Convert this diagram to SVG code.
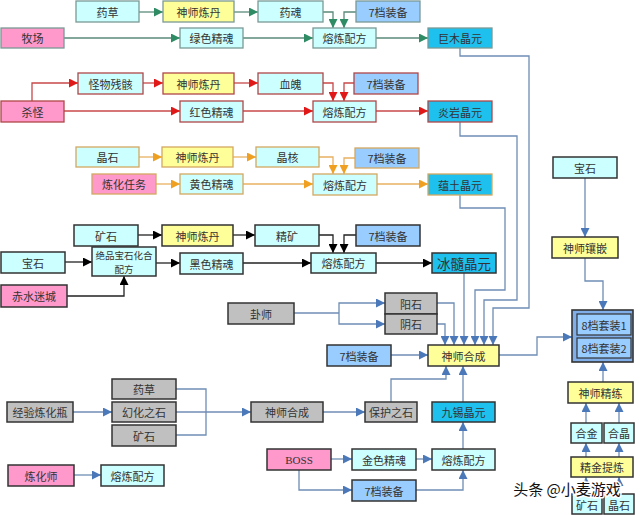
<svg xmlns="http://www.w3.org/2000/svg" width="640" height="515" viewBox="0 0 640 515">
<style>
text{font-family:"Noto Sans CJK SC","Liberation Serif",serif;font-size:11px;fill:#333;text-anchor:middle;dominant-baseline:central}
.lc{fill:#CCFFFF}.ye{fill:#FFFF99}.pk{fill:#FF99CC}.bl{fill:#99CCFF}.cy{fill:#1EC0EE}.gr{fill:#C0C0C0}
.bg{stroke:#7A9A94;stroke-width:1.3}.br{stroke:#B04848;stroke-width:1.3}.bo{stroke:#D4A860;stroke-width:1.3}.bk{stroke:#333;stroke-width:1.5}
.cg{fill:none;stroke:#5A8A7A;stroke-width:1.3}
.cr{fill:none;stroke:#C84848;stroke-width:1.3}
.co{fill:none;stroke:#E8B060;stroke-width:1.3}
.ck{fill:none;stroke:#222;stroke-width:1.3}
.cb{fill:none;stroke:#6F8DB5;stroke-width:1.3}
</style>
<defs>
<marker id="ag" viewBox="0 0 10 10" refX="10" refY="5" markerWidth="12" markerHeight="9" markerUnits="userSpaceOnUse" orient="auto"><path d="M0,0L10,5L0,10z" fill="#2E8B64"/></marker>
<marker id="ar" viewBox="0 0 10 10" refX="10" refY="5" markerWidth="12" markerHeight="9" markerUnits="userSpaceOnUse" orient="auto"><path d="M0,0L10,5L0,10z" fill="#E01818"/></marker>
<marker id="ao" viewBox="0 0 10 10" refX="10" refY="5" markerWidth="12" markerHeight="9" markerUnits="userSpaceOnUse" orient="auto"><path d="M0,0L10,5L0,10z" fill="#F0A020"/></marker>
<marker id="ak" viewBox="0 0 10 10" refX="10" refY="5" markerWidth="12" markerHeight="9" markerUnits="userSpaceOnUse" orient="auto"><path d="M0,0L10,5L0,10z" fill="#000"/></marker>
<marker id="ab" viewBox="0 0 10 10" refX="10" refY="5" markerWidth="12" markerHeight="9" markerUnits="userSpaceOnUse" orient="auto"><path d="M0,0L10,5L0,10z" fill="#4A78B8"/></marker>
</defs>

<g id="connectors">
<path class="cg" d="M139,12H163" marker-end="url(#ag)"/>
<path class="cg" d="M234,12H258" marker-end="url(#ag)"/>
<path class="cg" d="M323,12H333V28" marker-end="url(#ag)"/>
<path class="cg" d="M356,12H344V28" marker-end="url(#ag)"/>
<path class="cg" d="M64,38H180" marker-end="url(#ag)"/>
<path class="cg" d="M243,38H313" marker-end="url(#ag)"/>
<path class="cg" d="M376,38H428" marker-end="url(#ag)"/>
<path class="cr" d="M32,101V83H78" marker-end="url(#ar)"/>
<path class="cr" d="M143,83H163" marker-end="url(#ar)"/>
<path class="cr" d="M234,83H258" marker-end="url(#ar)"/>
<path class="cr" d="M323,83H333V101" marker-end="url(#ar)"/>
<path class="cr" d="M354,83H344V101" marker-end="url(#ar)"/>
<path class="cr" d="M64,111H180" marker-end="url(#ar)"/>
<path class="cr" d="M243,111H313" marker-end="url(#ar)"/>
<path class="cr" d="M376,111H428" marker-end="url(#ar)"/>
<path class="co" d="M139,157H162" marker-end="url(#ao)"/>
<path class="co" d="M233,157H256" marker-end="url(#ao)"/>
<path class="co" d="M319,157H333V174" marker-end="url(#ao)"/>
<path class="co" d="M355,158H344V174" marker-end="url(#ao)"/>
<path class="co" d="M156,184H180" marker-end="url(#ao)"/>
<path class="co" d="M243,184H313" marker-end="url(#ao)"/>
<path class="co" d="M377,184H428" marker-end="url(#ao)"/>
<path class="ck" d="M138,235H162" marker-end="url(#ak)"/>
<path class="ck" d="M233,235H255" marker-end="url(#ak)"/>
<path class="ck" d="M319,235H333V253" marker-end="url(#ak)"/>
<path class="ck" d="M356,235H344V253" marker-end="url(#ak)"/>
<path class="ck" d="M65,262H92" marker-end="url(#ak)"/>
<path class="ck" d="M67,296H124V276" marker-end="url(#ak)"/>
<path class="ck" d="M156,263H180" marker-end="url(#ak)"/>
<path class="ck" d="M243,263H311" marker-end="url(#ak)"/>
<path class="ck" d="M376,263H432" marker-end="url(#ak)"/>
<path class="cb" d="M460,48V56H529V308H493V345" marker-end="url(#ab)"/>
<path class="cb" d="M460,122V136H517V300H484V345" marker-end="url(#ab)"/>
<path class="cb" d="M460,195V208H505V290H475V345" marker-end="url(#ab)"/>
<path class="cb" d="M464,273V345" marker-end="url(#ab)"/>
<path class="cb" d="M437,303H454V345" marker-end="url(#ab)"/>
<path class="cb" d="M437,324H445V345" marker-end="url(#ab)"/>
<path class="cb" d="M294,313H339"/>
<path class="cb" d="M339,313V303H385" marker-end="url(#ab)"/>
<path class="cb" d="M339,313V324H385" marker-end="url(#ab)"/>
<path class="cb" d="M391,355H428" marker-end="url(#ab)"/>
<path class="cb" d="M499,355H537V337H572" marker-end="url(#ab)"/>
<path class="cb" d="M391,402V379H446V366" marker-end="url(#ab)"/>
<path class="cb" d="M463,402V366" marker-end="url(#ab)"/>
<path class="cb" d="M463,449V422" marker-end="url(#ab)"/>
<path class="cb" d="M73,412H112" marker-end="url(#ab)"/>
<path class="cb" d="M176,389H206V435H176"/>
<path class="cb" d="M176,412H251" marker-end="url(#ab)"/>
<path class="cb" d="M323,412H365" marker-end="url(#ab)"/>
<path class="cb" d="M74,475H101" marker-end="url(#ab)"/>
<path class="cb" d="M331,459H352" marker-end="url(#ab)"/>
<path class="cb" d="M416,459H432" marker-end="url(#ab)"/>
<path class="cb" d="M299,470V490H352" marker-end="url(#ab)"/>
<path class="cb" d="M416,490H463V470" marker-end="url(#ab)"/>
<path class="cb" d="M585,178V237" marker-end="url(#ab)"/>
<path class="cb" d="M585,258V281H603V310" marker-end="url(#ab)"/>
<path class="cb" d="M603,382V362" marker-end="url(#ab)"/>
<path class="cb" d="M586,423V403" marker-end="url(#ab)"/>
<path class="cb" d="M619,423V403" marker-end="url(#ab)"/>
<path class="cb" d="M586,457V443" marker-end="url(#ab)"/>
<path class="cb" d="M619,457V443" marker-end="url(#ab)"/>
<path class="cb" d="M586,494V477" marker-end="url(#ab)"/>
<path class="cb" d="M619,494V477" marker-end="url(#ab)"/>
</g>

<g id="n_yaocao1"><rect class="lc bg" x="76" y="1" width="63" height="21"/><text x="107.5" y="11.5">药草</text></g>
<g id="n_liandan1"><rect class="ye bg" x="163" y="1" width="71" height="21"/><text x="198.5" y="11.5">神师炼丹</text></g>
<g id="n_yaohun"><rect class="lc bg" x="258" y="1" width="65" height="21"/><text x="290.5" y="11.5">药魂</text></g>
<g id="n_zb7a"><rect class="bl bg" x="356" y="1" width="64" height="21"/><text x="388" y="11.5">7档装备</text></g>
<g id="n_muchang"><rect class="pk bg" x="1" y="28" width="63" height="20"/><text x="32.5" y="38">牧场</text></g>
<g id="n_lvjinghun"><rect class="lc bg" x="180" y="28" width="63" height="20"/><text x="211.5" y="38">绿色精魂</text></g>
<g id="n_peifang1"><rect class="lc bg" x="313" y="28" width="63" height="20"/><text x="344.5" y="38">熔炼配方</text></g>
<g id="n_jumu"><rect class="cy bg" x="428" y="28" width="64" height="20"/><text x="460" y="38">巨木晶元</text></g>

<g id="n_canhai"><rect class="lc br" x="78" y="73" width="65" height="21"/><text x="110.5" y="83.5">怪物残骸</text></g>
<g id="n_liandan2"><rect class="ye br" x="163" y="73" width="71" height="21"/><text x="198.5" y="83.5">神师炼丹</text></g>
<g id="n_xuepo"><rect class="lc br" x="258" y="73" width="65" height="21"/><text x="290.5" y="83.5">血魄</text></g>
<g id="n_zb7b"><rect class="bl br" x="354" y="73" width="64" height="21"/><text x="386" y="83.5">7档装备</text></g>
<g id="n_shaguai"><rect class="pk br" x="1" y="101" width="63" height="21"/><text x="32.5" y="111.5">杀怪</text></g>
<g id="n_hongjinghun"><rect class="lc br" x="180" y="101" width="63" height="21"/><text x="211.5" y="111.5">红色精魂</text></g>
<g id="n_peifang2"><rect class="lc br" x="313" y="101" width="63" height="21"/><text x="344.5" y="111.5">熔炼配方</text></g>
<g id="n_yanyan"><rect class="cy br" x="428" y="101" width="64" height="21"/><text x="460" y="111.5">炎岩晶元</text></g>

<g id="n_jingshi1"><rect class="lc bo" x="76" y="147" width="63" height="20"/><text x="107.5" y="157">晶石</text></g>
<g id="n_liandan3"><rect class="ye bo" x="162" y="147" width="71" height="20"/><text x="197.5" y="157">神师炼丹</text></g>
<g id="n_jinghe"><rect class="lc bo" x="256" y="147" width="63" height="20"/><text x="287.5" y="157">晶核</text></g>
<g id="n_zb7c"><rect class="bl bo" x="355" y="148" width="64" height="20"/><text x="387" y="158">7档装备</text></g>
<g id="n_lianhuarenwu"><rect class="pk bo" x="92" y="174" width="64" height="20"/><text x="124" y="184">炼化任务</text></g>
<g id="n_huangjinghun"><rect class="lc bo" x="180" y="174" width="63" height="20"/><text x="211.5" y="184">黄色精魂</text></g>
<g id="n_peifang3"><rect class="lc bo" x="313" y="174" width="64" height="21"/><text x="345" y="184.5">熔炼配方</text></g>
<g id="n_yuntu"><rect class="cy bo" x="428" y="174" width="64" height="21"/><text x="460" y="184.5">蕴土晶元</text></g>

<g id="n_kuangshi1"><rect class="lc bk" x="74" y="225" width="64" height="21"/><text x="106" y="235.5">矿石</text></g>
<g id="n_liandan4"><rect class="ye bk" x="162" y="225" width="71" height="21"/><text x="197.5" y="235.5">神师炼丹</text></g>
<g id="n_jingkuang"><rect class="lc bk" x="255" y="225" width="64" height="21"/><text x="287" y="235.5">精矿</text></g>
<g id="n_zb7d"><rect class="bl bk" x="356" y="225" width="64" height="21"/><text x="388" y="235.5">7档装备</text></g>
<g id="n_baoshi1"><rect class="lc bk" x="1" y="252" width="64" height="21"/><text x="33" y="262.5">宝石</text></g>
<g id="n_juepin"><rect class="lc bk" x="92" y="247" width="64" height="29"/><text x="124" y="254.5" style="font-size:9.5px">绝品宝石化合</text><text x="124" y="268.5" style="font-size:9.5px">配方</text></g>
<g id="n_heijinghun"><rect class="lc bk" x="180" y="253" width="63" height="21"/><text x="211.5" y="263.5">黑色精魂</text></g>
<g id="n_peifang4"><rect class="lc bk" x="311" y="253" width="65" height="20"/><text x="343.5" y="263">熔炼配方</text></g>
<g id="n_bingsui"><rect class="cy bk" x="432" y="253" width="64" height="20"/><text x="464" y="263" style="font-size:13.5px">冰髓晶元</text></g>
<g id="n_chishui"><rect class="pk bk" x="1" y="285" width="66" height="22"/><text x="34" y="296">赤水迷城</text></g>

<g id="n_baoshi2"><rect class="lc bk" x="553" y="157" width="64" height="21"/><text x="585" y="167.5">宝石</text></g>
<g id="n_xiangqian"><rect class="ye bk" x="552" y="237" width="66" height="21"/><text x="585" y="247.5">神师镶嵌</text></g>
<g id="n_taozhuang"><rect fill="#7FAEE8" stroke="#333" stroke-width="1.6" x="572" y="310" width="61" height="52"/>
<rect class="bl" stroke="#333" stroke-width="1.2" x="577" y="314" width="54" height="21"/><text x="604" y="324.5">8档套装1</text>
<rect class="bl" stroke="#333" stroke-width="1.2" x="577" y="338" width="54" height="20"/><text x="604" y="348">8档套装2</text></g>
<g id="n_jinglian"><rect class="ye bk" x="568" y="382" width="65" height="21"/><text x="600.5" y="392.5">神师精练</text></g>
<g id="n_hejin"><rect class="lc bk" x="571" y="423" width="31" height="20"/><text x="586.5" y="433">合金</text></g>
<g id="n_hejing"><rect class="lc bk" x="604" y="423" width="30" height="20"/><text x="619" y="433">合晶</text></g>
<g id="n_tilian"><rect class="ye bk" x="571" y="457" width="62" height="20"/><text x="602" y="467">精金提炼</text></g>
<g id="n_kuangshi3"><rect class="lc bk" x="572" y="494" width="30" height="20"/><text x="587" y="505">矿石</text></g>
<g id="n_jingshi2"><rect class="lc bk" x="604" y="494" width="30" height="20"/><text x="619" y="505">晶石</text></g>

<g id="n_guashi"><rect class="gr bk" x="228" y="303" width="66" height="21"/><text x="261" y="313.5">卦师</text></g>
<g id="n_yangshi"><rect class="gr bk" x="385" y="293" width="52" height="21"/><text x="411" y="303.5">阳石</text></g>
<g id="n_yinshi"><rect class="gr bk" x="385" y="314" width="52" height="20"/><text x="411" y="324">阴石</text></g>
<g id="n_zb7e"><rect class="bl bk" x="327" y="345" width="64" height="21"/><text x="359" y="355.5">7档装备</text></g>
<g id="n_hecheng"><rect class="ye bk" x="428" y="345" width="71" height="21"/><text x="463.5" y="355.5">神师合成</text></g>
<g id="n_jiuxi"><rect class="cy bk" x="432" y="402" width="63" height="20"/><text x="463.5" y="412">九锡晶元</text></g>
<g id="n_peifang5"><rect class="lc bk" x="432" y="449" width="63" height="21"/><text x="463.5" y="459.5">熔炼配方</text></g>
<g id="n_baohu"><rect class="gr bk" x="365" y="402" width="52" height="20"/><text x="391" y="412">保护之石</text></g>
<g id="n_hecheng2"><rect class="gr bk" x="251" y="402" width="72" height="20"/><text x="287" y="412">神师合成</text></g>
<g id="n_jingyan"><rect class="gr bk" x="7" y="402" width="66" height="20"/><text x="40" y="412">经验炼化瓶</text></g>
<g id="n_yaocao2"><rect class="gr bk" x="112" y="379" width="64" height="20"/><text x="144" y="389">药草</text></g>
<g id="n_huanhua"><rect class="gr bk" x="112" y="402" width="64" height="20"/><text x="144" y="412">幻化之石</text></g>
<g id="n_kuangshi2"><rect class="gr bk" x="112" y="425" width="64" height="21"/><text x="144" y="435.5">矿石</text></g>
<g id="n_lianhuashi"><rect class="pk bk" x="8" y="465" width="66" height="21"/><text x="41" y="475.5">炼化师</text></g>
<g id="n_peifang6"><rect class="lc bk" x="101" y="465" width="63" height="21"/><text x="132.5" y="475.5">熔炼配方</text></g>
<g id="n_boss"><rect class="pk bk" x="267" y="449" width="64" height="21"/><text x="299" y="459.5" style="font-family:'Liberation Serif',serif">BOSS</text></g>
<g id="n_jinjinghun"><rect class="lc bk" x="352" y="449" width="64" height="21"/><text x="384" y="459.5">金色精魂</text></g>
<g id="n_zb7f"><rect class="bl bk" x="352" y="480" width="64" height="21"/><text x="384" y="490.5">7档装备</text></g>

<text x="567" y="488" style="font-size:15px;fill:#111;stroke:#fff;stroke-width:3;paint-order:stroke">头条 @小麦游戏</text>
</svg>
